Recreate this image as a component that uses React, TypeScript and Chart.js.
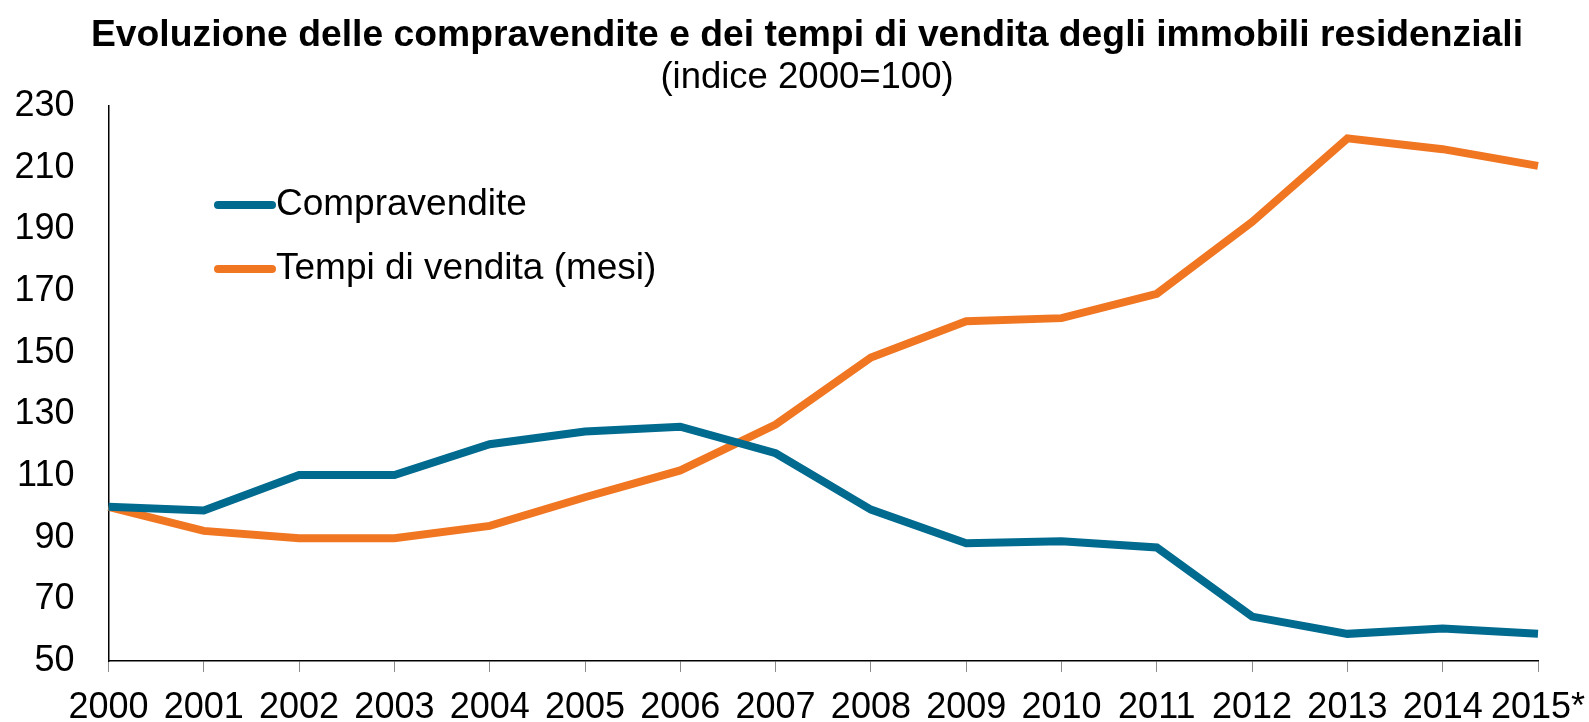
import React, { useEffect, useRef } from "react";
import { Chart, registerables } from "chart.js";

Chart.register(...registerables);

const years = ["2000", "2001", "2002", "2003", "2004", "2005", "2006", "2007", "2008", "2009", "2010", "2011", "2012", "2013", "2014", "2015*"];
const compravendite = [100, 98.8, 110.3, 110.3, 120.3, 124.4, 126, 117.4, 99.1, 88.2, 88.8, 86.8, 64.4, 58.8, 60.5, 58.8];
const tempiVendita = [100, 92.2, 89.8, 89.8, 93.8, 103.1, 111.8, 126.7, 148.4, 160.2, 161.2, 169.1, 192.4, 219.5, 216, 210.6];
const seriesLabels = ["Compravendite", "Tempi di vendita (mesi)"];
const titleText = "Evoluzione delle compravendite e dei tempi di vendita degli immobili residenziali";
const subtitleText = "(indice 2000=100)";

const BLUE = "#006A8F";
const ORANGE = "#F07622";
const FONT = "'Liberation Sans', Arial, Helvetica, sans-serif";

const legendPlugin = {
  id: "insideLegend",
  afterDraw(chart: any) {
    const ctx = chart.ctx;
    const x0 = 218;
    const x1 = 272;
    const ys = [205, 269];
    ctx.save();
    chart.data.datasets.forEach((ds: any, i: number) => {
      const y = ys[i];
      ctx.strokeStyle = ds.borderColor;
      ctx.lineWidth = 8;
      ctx.lineCap = "round";
      ctx.beginPath();
      ctx.moveTo(x0, y);
      ctx.lineTo(x1, y);
      ctx.stroke();
      ctx.fillStyle = "#000";
      ctx.font = `37px ${FONT}`;
      ctx.textAlign = "left";
      ctx.textBaseline = "middle";
      ctx.fillText(ds.label, x1 + 4, y);
    });
    ctx.restore();
  },
};

const titlePlugin = {
  id: "titles",
  afterDraw(chart: any) {
    const ctx = chart.ctx;
    const cx = 807;
    ctx.save();
    ctx.fillStyle = "#000";
    ctx.textAlign = "center";
    ctx.textBaseline = "middle";
    ctx.font = `bold 37.3px ${FONT}`;
    ctx.fillText(titleText, cx, 35.5);
    ctx.font = `36.5px ${FONT}`;
    ctx.fillText(subtitleText, cx, 77.5);
    ctx.restore();
  },
};

export default function App() {
  const ref = useRef<HTMLCanvasElement | null>(null);
  useEffect(() => {
    document.body.style.margin = "0";
    const canvas = ref.current;
    if (!canvas) return;
    const chart = new Chart(canvas, {
      type: "line",
      data: {
        labels: years,
        datasets: [
          { label: seriesLabels[0], data: compravendite, borderColor: BLUE, backgroundColor: BLUE, borderWidth: 8, pointRadius: 0, tension: 0 },
          { label: seriesLabels[1], data: tempiVendita, borderColor: ORANGE, backgroundColor: ORANGE, borderWidth: 8, pointRadius: 0, tension: 0 },
        ],
      },
      options: {
        animation: false,
        responsive: true,
        maintainAspectRatio: false,
        layout: { padding: { left: 0, right: 51, top: 106, bottom: 0 } },
        plugins: {
          legend: { display: false },
          tooltip: { enabled: false },
          title: { display: false },
          subtitle: { display: false },
        },
        scales: {
          x: {
            offset: false,
            grid: { display: true, drawOnChartArea: false, drawTicks: true, tickLength: 11, color: "#8c8c8c", lineWidth: 1 },
            border: { display: true, color: "#000", width: 1.5 },
            ticks: { color: "#000", font: { family: FONT, size: 36 }, autoSkip: false, maxRotation: 0, minRotation: 0, padding: 14 },
            afterFit(scale: any) {
              scale.height = 61;
              scale.paddingLeft = 0;
              scale.paddingRight = 0;
            },
          },
          y: {
            min: 50,
            max: 230,
            grid: { display: false, drawTicks: false },
            border: { display: true, color: "#000", width: 1.5 },
            ticks: { stepSize: 20, color: "#000", font: { family: FONT, size: 36 }, padding: 34 },
            afterFit(scale: any) { scale.width = 108.5; },
          },
        },
      },
      plugins: [legendPlugin, titlePlugin],
    });
    return () => chart.destroy();
  }, []);
  return (
    <div style={{ width: "1589px", height: "722px", position: "relative" }}>
      <canvas ref={ref} />
    </div>
  );
}
